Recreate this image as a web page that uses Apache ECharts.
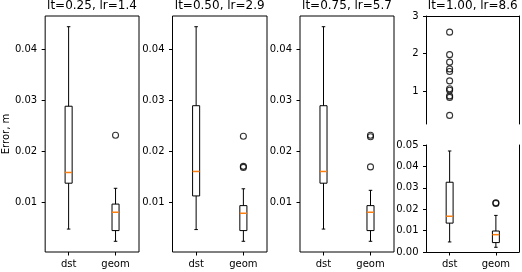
<!DOCTYPE html>
<html>
<head>
<meta charset="utf-8">
<script src="https://cdn.jsdelivr.net/npm/echarts@6/dist/echarts.min.js"></script>
<style>html,body{margin:0;padding:0;background:#fff}#c{width:522px;height:272px}</style>
</head>
<body>
<div id="c"></div>
<script>
const categories = ['dst', 'geom'];
const titles = ['lt=0.25, lr=1.4', 'lt=0.50, lr=2.9', 'lt=0.75, lr=5.7', 'lt=1.00, lr=8.6'];
// box stats: [lower whisker, Q1, median, Q3, upper whisker]
const p1Dst = [0.0047, 0.0137, 0.0158, 0.0288, 0.0444];
const p1Geom = [0.0023, 0.0044, 0.0080, 0.0096, 0.0127];
const p1GeomOut = [0.0231];
const p2Dst = [0.0046, 0.0112, 0.0160, 0.0289, 0.0444];
const p2Geom = [0.0023, 0.0044, 0.0078, 0.0093, 0.0126];
const p2GeomOut = [0.0229, 0.0168, 0.0170];
const p3Dst = [0.0047, 0.0137, 0.0160, 0.0289, 0.0444];
const p3Geom = [0.0023, 0.0044, 0.0080, 0.0093, 0.0123];
const p3GeomOut = [0.0228, 0.0231, 0.0169];
const p4Dst = [0.0047, 0.0135, 0.0167, 0.0326, 0.0472];
const p4Geom = [0.0022, 0.0044, 0.0081, 0.0098, 0.0171];
const p4DstOut = [2.57, 1.97, 1.77, 1.59, 1.52, 1.27, 1.06, 1.02, 0.87, 0.83, 0.35];
const p4GeomOut = [0.0227, 0.0230];
const yTicks = [0.01, 0.02, 0.03, 0.04];
const yTicksTop = [1, 2, 3];
const yTicksBottom = [0, 0.01, 0.02, 0.03, 0.04, 0.05];

const FONT = 'DejaVu Sans';
const grids = [
  {left: 45, top: 16, width: 94, height: 236},
  {left: 172.5, top: 16, width: 94.5, height: 236},
  {left: 300, top: 16, width: 94, height: 236},
  {left: 426.5, top: 16, width: 92.5, height: 108},
  {left: 426.5, top: 145, width: 92.5, height: 107}
];
const panelCenters = [0, 1, 2, 3].map(i => grids[i].left + grids[i].width / 2);

function renderBox(params, api) {
  const x = api.value(0);
  const lo = api.coord([x, api.value(1)]);
  const q1 = api.coord([x, api.value(2)]);
  const med = api.coord([x, api.value(3)]);
  const q3 = api.coord([x, api.value(4)]);
  const hi = api.coord([x, api.value(5)]);
  const bw = api.size([1, 0])[0] * 0.15;
  const cx = lo[0];
  const hb = bw / 2, hc = bw / 4;
  const ls = {stroke: '#000', lineWidth: 1, fill: null};
  return {
    type: 'group',
    children: [
      {type: 'line', shape: {x1: cx, y1: q1[1], x2: cx, y2: lo[1]}, style: ls},
      {type: 'line', shape: {x1: cx, y1: q3[1], x2: cx, y2: hi[1]}, style: ls},
      {type: 'line', shape: {x1: cx - hc, y1: lo[1], x2: cx + hc, y2: lo[1]}, style: ls},
      {type: 'line', shape: {x1: cx - hc, y1: hi[1], x2: cx + hc, y2: hi[1]}, style: ls},
      {type: 'rect', shape: {x: cx - hb, y: q3[1], width: bw, height: q1[1] - q3[1]}, style: {stroke: '#000', lineWidth: 1, fill: 'none'}},
      {type: 'line', shape: {x1: cx - hb, y1: med[1], x2: cx + hb, y2: med[1]}, style: {stroke: '#ff7f0e', lineWidth: 1.5}}
    ]
  };
}

function boxSeries(idx, dst, geom) {
  const data = [];
  if (dst) data.push([0].concat(dst));
  if (geom) data.push([1].concat(geom));
  return {type: 'custom', xAxisIndex: idx, yAxisIndex: idx, renderItem: renderBox,
    encode: {x: 0, y: [1, 2, 3, 4, 5]}, data: data, z: 2};
}
function outSeries(idx, yIdx, cat, vals) {
  return {type: 'scatter', xAxisIndex: idx, yAxisIndex: yIdx, symbol: 'circle', symbolSize: 6,
    itemStyle: {color: 'rgba(0,0,0,0)', borderColor: '#000', borderWidth: 1.1},
    data: vals.map(v => [cat, v]), z: 3, silent: true};
}

const labelStyle = {color: '#000', fontSize: 10, fontFamily: FONT};
function spine() { return {show: true, onZero: false, lineStyle: {color: '#000', width: 1}}; }
function xAx(gi, shown, pos) {
  return {type: 'category', gridIndex: gi, data: categories, boundaryGap: true, position: pos || 'bottom',
    axisLine: Object.assign(spine(), {show: !!pos || gi === 4}),
    axisTick: {show: shown, alignWithLabel: true, length: 3.5, lineStyle: {color: '#000'}},
    axisLabel: Object.assign({show: shown, margin: 7}, labelStyle),
    splitLine: {show: false}};
}
function yAx(gi, min, max, ticks, fmt, extra) {
  return Object.assign({type: 'value', gridIndex: gi, min: min, max: max, position: 'left',
    axisLine: Object.assign(spine(), {show: false}),
    axisTick: {show: true, length: 3.5, lineStyle: {color: '#000'}, customValues: ticks},
    axisLabel: Object.assign({margin: 8, customValues: ticks, formatter: fmt}, labelStyle),
    splitLine: {show: false}}, extra || {});
}
function rightSpine(gi, min, max) {
  return {type: 'value', gridIndex: gi, position: 'right', min: min, max: max,
    axisLine: spine(), axisTick: {show: false}, axisLabel: {show: false}, splitLine: {show: false}};
}
const f2 = v => v.toFixed(2);
const f0 = v => String(Math.round(v));

const option = {
  animation: false,
  backgroundColor: '#fff',
  title: titles.map((t, i) => ({text: t, left: panelCenters[i], top: 0, textAlign: 'center', padding: 0,
    textStyle: {fontSize: 12, fontWeight: 'normal', color: '#000', fontFamily: FONT}})),
  grid: grids.map((g, i) => Object.assign({show: i < 3, borderColor: '#000', borderWidth: 1, backgroundColor: 'transparent'}, g)),
  xAxis: [
    xAx(0, true), xAx(1, true), xAx(2, true),
    xAx(3, false, 'top'),
    xAx(4, true)
  ],
  yAxis: [
    yAx(0, 0.0002, 0.0465, yTicks, f2, {name: 'Error, m', nameLocation: 'middle', nameGap: 28,
      nameTextStyle: {color: '#000', fontSize: 10, fontFamily: FONT}}),
    yAx(1, 0.0002, 0.0465, yTicks, f2),
    yAx(2, 0.0002, 0.0465, yTicks, f2),
    yAx(3, 0.12, 3, yTicksTop, f0, {axisLine: spine()}),
    yAx(4, 0, 0.05, yTicksBottom, f2, {axisLine: spine()}),
    rightSpine(3, 0.12, 3),
    rightSpine(4, 0, 0.05)
  ],
  series: [
    boxSeries(0, p1Dst, p1Geom), outSeries(0, 0, 1, p1GeomOut),
    boxSeries(1, p2Dst, p2Geom), outSeries(1, 1, 1, p2GeomOut),
    boxSeries(2, p3Dst, p3Geom), outSeries(2, 2, 1, p3GeomOut),
    outSeries(3, 3, 0, p4DstOut),
    boxSeries(4, p4Dst, p4Geom), outSeries(4, 4, 1, p4GeomOut)
  ]
};
const chart = echarts.init(document.getElementById('c'), null, {renderer: 'canvas'});
chart.setOption(option);
</script>
</body>
</html>
